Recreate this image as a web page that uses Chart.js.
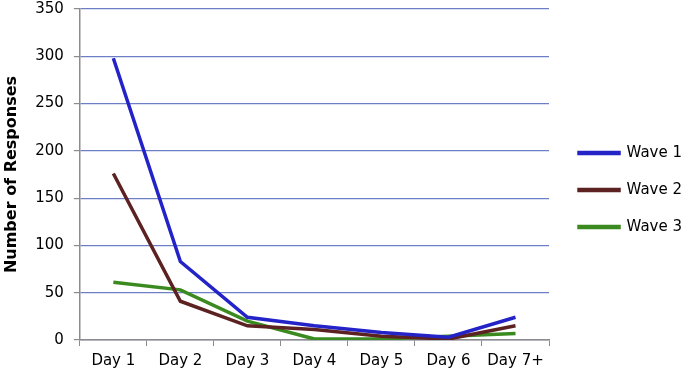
<!DOCTYPE html>
<html>
<head>
<meta charset="utf-8">
<script src="https://cdn.jsdelivr.net/npm/chart.js@4"></script>
<style>
  html, body { margin: 0; padding: 0; background: #fff; overflow: hidden; }
  #wrap { width: 688px; height: 387px; margin-top: -10px; }
</style>
</head>
<body>
<div id="wrap"><canvas id="responses"></canvas></div>
<script>
const days = ['Day 1', 'Day 2', 'Day 3', 'Day 4', 'Day 5', 'Day 6', 'Day 7+'];
const wave1 = [298, 83, 24, 15, 8, 3, 24];
const wave2 = [176, 41, 15, 11, 4, 1, 15];
const wave3 = [61, 53, 20, 1, 1, 4, 7];

const axisGray = '#8c8c8c';

function line(label, values, color) {
    return {
        label: label,
        data: values,
        borderColor: color,
        backgroundColor: color,
        borderWidth: 3.5,
        pointRadius: 0,
        tension: 0,
        fill: false
    };
}

// nudge the legend a little further from the plot, like the original
const legendShift = {
    id: 'legendShift',
    afterLayout(chart) {
        chart.legend.left += 8;
        chart.legend.right += 8;
        chart.legend.top += 7;
        chart.legend.bottom += 7;
    }
};

Chart.defaults.font.family = '"DejaVu Sans", Verdana, sans-serif';
Chart.defaults.font.size = 15;
Chart.defaults.color = '#000';

var chart = new Chart(document.getElementById('responses').getContext('2d'), {
    type: 'line',
    data: {
        labels: days,
        datasets: [
            line('Wave 1', wave1, '#2323c8'),
            line('Wave 2', wave2, '#5c2222'),
            line('Wave 3', wave3, '#3a8a1f')
        ]
    },
    plugins: [legendShift],
    options: {
        responsive: true,
        maintainAspectRatio: false,
        animation: false,
        layout: { padding: { top: 0, left: 2, right: 4, bottom: 1 } },
        plugins: {
            legend: {
                position: 'right',
                labels: {
                    boxWidth: 40,
                    boxHeight: 1,
                    padding: 22,
                    font: { size: 15 }
                }
            },
            tooltip: { enabled: false }
        },
        scales: {
            x: {
                offset: true,
                grid: {
                    offset: true,
                    drawOnChartArea: false,
                    drawTicks: true,
                    tickLength: 6,
                    color: axisGray
                },
                border: { color: axisGray, width: 1.5 },
                ticks: { padding: 6, maxRotation: 0 }
            },
            y: {
                min: 0,
                max: 350,
                ticks: { stepSize: 50, padding: 10 },
                grid: {
                    color: '#6c7fc6',
                    lineWidth: 1.2,
                    tickLength: 6,
                    tickColor: axisGray
                },
                border: { color: axisGray, width: 1.5 },
                title: {
                    display: true,
                    text: 'Number of Responses',
                    font: { size: 16, weight: 'bold' },
                    padding: { top: 0, bottom: 4 }
                }
            }
        }
    }
});
</script>
</body>
</html>
